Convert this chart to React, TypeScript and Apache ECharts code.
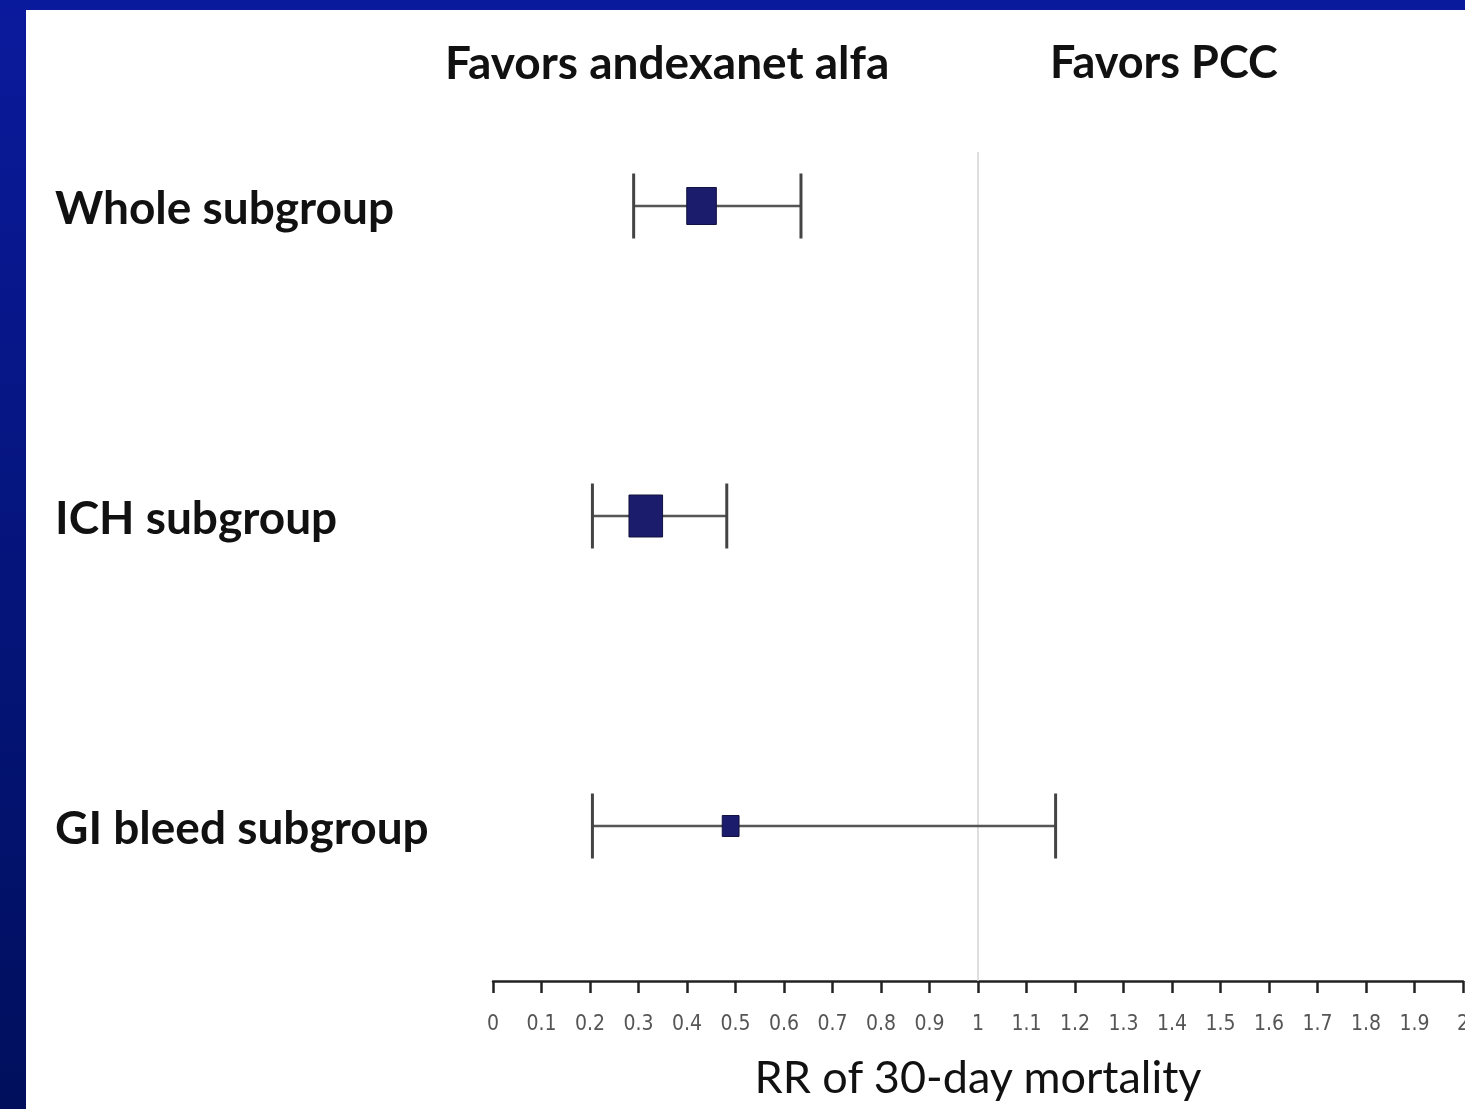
import React, { useEffect, useRef } from "react";
import * as echarts from "echarts";

const categories = ["Whole subgroup", "ICH subgroup", "GI bleed subgroup"];
const estimates = [0.43, 0.315, 0.49];
const lowerCI = [0.29, 0.205, 0.205];
const upperCI = [0.635, 0.482, 1.16];
const weights = [34.5, 44.4, 11.1];
const tickLabels = [
  "0", "0.1", "0.2", "0.3", "0.4", "0.5", "0.6", "0.7", "0.8", "0.9", "1",
  "1.1", "1.2", "1.3", "1.4", "1.5", "1.6", "1.7", "1.8", "1.9", "2",
];
const referenceValue = [1];
const favorsLeft = "Favors andexanet alfa";
const favorsRight = "Favors PCC";
const axisTitle = "RR of 30-day mortality";

const W = 1465;
const H = 1109;

export default function App() {
  const ref = useRef<HTMLDivElement>(null);

  useEffect(() => {
    if (!ref.current) return;
    const chart = echarts.init(ref.current, null, { renderer: "svg", width: W, height: H });
    const data = categories.map((_, i) => [i, lowerCI[i], estimates[i], upperCI[i], weights[i]]);

    chart.setOption({
      animation: false,
      backgroundColor: "transparent",
      graphic: [
        {
          type: "rect",
          z: -10,
          shape: { x: 0, y: 0, width: W, height: H },
          style: {
            fill: {
              type: "linear", x: 0, y: 0, x2: 0, y2: 1,
              colorStops: [
                { offset: 0, color: "#0a1a9c" },
                { offset: 1, color: "#000f5c" },
              ],
            },
          },
        },
        {
          type: "rect",
          z: -9,
          shape: { x: 26, y: 10, width: W - 26, height: H - 10 },
          style: { fill: "#ffffff" },
        },
        {
          type: "text",
          x: 445,
          y: 61,
          style: {
            text: favorsLeft,
            fontSize: 46,
            fontWeight: "bold",
            fontFamily: "Lato",
            fill: "#111111",
            align: "left",
            verticalAlign: "middle",
          },
        },
        {
          type: "text",
          x: 1050,
          y: 61,
          style: {
            text: favorsRight,
            fontSize: 45,
            fontWeight: "bold",
            fontFamily: "Lato",
            fill: "#111111",
            align: "left",
            verticalAlign: "middle",
          },
        },
      ],
      grid: { left: 493, right: 2, top: 51, bottom: 128, outerBoundsMode: "none", containLabel: false },
      xAxis: {
        type: "value",
        min: 0,
        max: 2,
        interval: 0.1,
        splitLine: { show: false },
        axisLine: { show: true, lineStyle: { color: "#222222", width: 2.5 } },
        axisTick: { show: true, length: 12, lineStyle: { color: "#222222", width: 2.5 } },
        axisLabel: {
          margin: 31,
          fontSize: 21,
          color: "#555555",
          fontFamily: "'Liberation Sans Narrow', 'DejaVu Sans Condensed', sans-serif",
          formatter: (v: number) => tickLabels[Math.round(v * 10)] ?? "",
        },
        name: axisTitle,
        nameLocation: "middle",
        nameGap: 72,
        nameTextStyle: { fontSize: 45, fontFamily: "Lato", color: "#111111" },
      },
      yAxis: {
        type: "category",
        data: categories,
        inverse: true,
        axisLine: { show: false },
        axisTick: { show: false },
        splitLine: { show: false },
        axisLabel: {
          align: "left",
          margin: 438,
          fontSize: 46,
          fontWeight: "bold",
          fontFamily: "Lato",
          color: "#111111",
        },
      },
      series: [
        {
          type: "custom",
          z: 1,
          data: referenceValue.map((v) => [v]),
          encode: { x: 0 },
          renderItem: (params: any, api: any) => {
            const cs = params.coordSys;
            const x = api.coord([api.value(0), 0])[0];
            return {
              type: "line",
              shape: { x1: x, y1: cs.y + 101, x2: x, y2: cs.y + cs.height },
              style: { stroke: "#d4d4d4", lineWidth: 1.5 },
            };
          },
        },
        {
          type: "custom",
          z: 3,
          data,
          encode: { y: 0, x: [1, 2, 3] },
          renderItem: (params: any, api: any) => {
            const cat = api.value(0);
            const lo = api.coord([api.value(1), cat]);
            const est = api.coord([api.value(2), cat]);
            const hi = api.coord([api.value(3), cat]);
            const w = api.value(4);
            const bh = 6.3 * Math.sqrt(w);
            const bw = bh * 0.8;
            const yc = est[1];
            const capH = 32.5;
            return {
              type: "group",
              children: [
                {
                  type: "line",
                  shape: { x1: lo[0], y1: yc, x2: hi[0], y2: yc },
                  style: { stroke: "#555555", lineWidth: 2.5 },
                },
                {
                  type: "line",
                  shape: { x1: lo[0], y1: yc - capH, x2: lo[0], y2: yc + capH },
                  style: { stroke: "#444444", lineWidth: 3 },
                },
                {
                  type: "line",
                  shape: { x1: hi[0], y1: yc - capH, x2: hi[0], y2: yc + capH },
                  style: { stroke: "#444444", lineWidth: 3 },
                },
                {
                  type: "rect",
                  shape: { x: est[0] - bw / 2, y: yc - bh / 2, width: bw, height: bh },
                  style: { fill: "#1c1c6c", stroke: "#12123f", lineWidth: 1 },
                },
              ],
            };
          },
        },
      ],
    });

    return () => chart.dispose();
  }, []);

  return (
    <div
      ref={ref}
      style={{ position: "fixed", left: 0, top: 0, width: W, height: H, overflow: "hidden" }}
    />
  );
}
